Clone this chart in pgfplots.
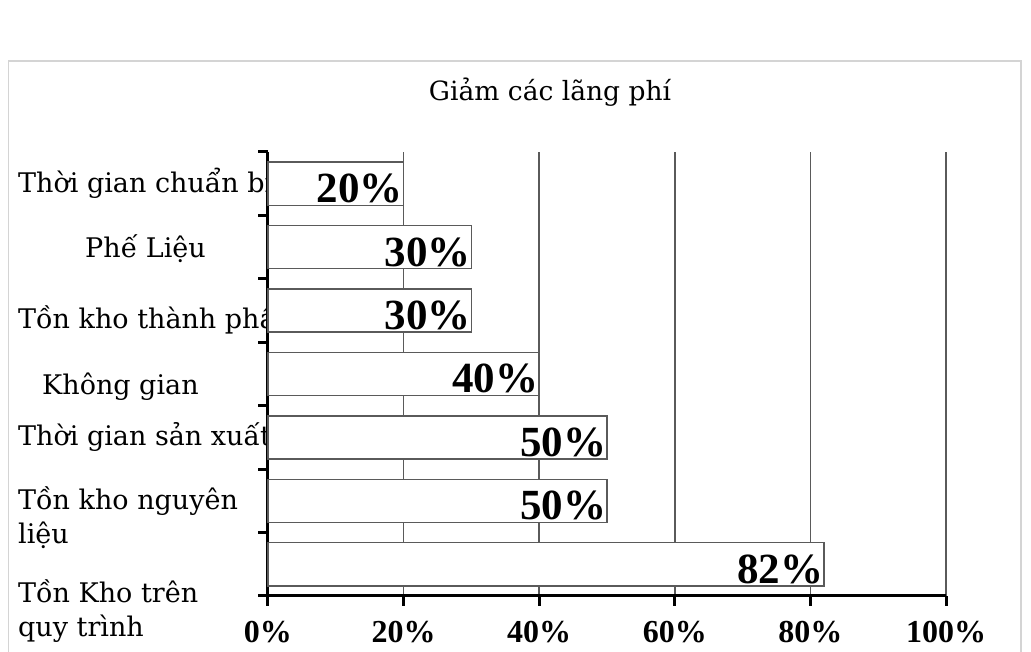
\documentclass[border=0pt]{standalone}
\usepackage{fontspec}
\setmainfont{Liberation Serif}
\newfontfamily\lblfont{DejaVu Serif}
\usepackage{pgfplots}
\pgfplotsset{compat=1.18}
\definecolor{gridc}{HTML}{5A5A5A}
\definecolor{framec}{HTML}{D4D4D4}
\begin{document}
\begin{tikzpicture}[x=1pt,y=1pt]
\useasboundingbox (0,0) rectangle (1031,652);
\fill[white] (0,0) rectangle (1031,652);
\draw[framec, line width=1.5pt] (8.5,0) -- (8.5,591) -- (1021,591) -- (1021,0);
\begin{axis}[
  at={(268pt,56pt)}, anchor=south west,
  scale only axis, width=678pt, height=444pt,
  xmin=0, xmax=100, ymin=-0.5, ymax=6.5,
  clip=false,
  axis x line*=bottom, axis y line*=left,
  axis line style={line width=3pt, black},
  tick align=outside, major tick length=10pt,
  /pgf/number format/assume math mode=true,
  xtick={0,20,40,60,80,100},
  xticklabels={0\%,20\%,40\%,60\%,80\%,100\%},
  xticklabel style={font=\fontsize{32}{32}\selectfont\bfseries, anchor=base, yshift=-37pt},
  xtick style={line width=3pt, black},
  xmajorgrids, grid style={gridc, line width=1.5pt},
  ytick={0,1,2,3,4,5,6},
  ytick style={draw=none},
  yticklabels={
    {\raisebox{-38pt}{\begin{tabular}[t]{@{}l@{}}Tồn Kho trên\\quy trình\end{tabular}}},
    {\raisebox{-9pt}{\begin{tabular}[t]{@{}l@{}}Tồn kho nguyên\\liệu\end{tabular}}},
    {\raisebox{-8pt}{Thời gian sản xuất}},
    {\raisebox{-21pt}{\hspace*{24pt}Không gian}},
    {\raisebox{-18pt}{Tồn kho thành phẩm}},
    {\raisebox{-10pt}{\hspace*{67pt}Phế Liệu}},
    {\raisebox{-9pt}{Thời gian chuẩn bị}}
  },
  yticklabel style={anchor=base west, inner sep=0pt, xshift=-240pt, font=\lblfont\fontsize{27}{34}\selectfont},
  extra y ticks={-0.5,0.5,1.5,2.5,3.5,4.5,5.5,6.5},
  extra y tick labels={},
  extra y tick style={ytick style={draw=black, line width=3pt}},
  title={Giảm các lãng phí},
  title style={font=\lblfont\fontsize{26.5}{30}\selectfont, at={(axis description cs:0.416,1)}, anchor=base, yshift=45pt},
]
\addplot[xbar, bar width=0.68, fill=white, draw=gridc, line width=1.5pt,
  point meta=x,
  nodes near coords={\pgfmathprintnumber{\pgfplotspointmeta}\%},
  every node near coord/.append style={anchor=base east, inner sep=0pt, yshift=-19pt, font=\fontsize{43}{43}\selectfont\bfseries, text=black}]
  coordinates {(82,0) (50,1) (50,2) (40,3) (30,4) (30,5) (20,6)};
\end{axis}
\end{tikzpicture}
\end{document}
